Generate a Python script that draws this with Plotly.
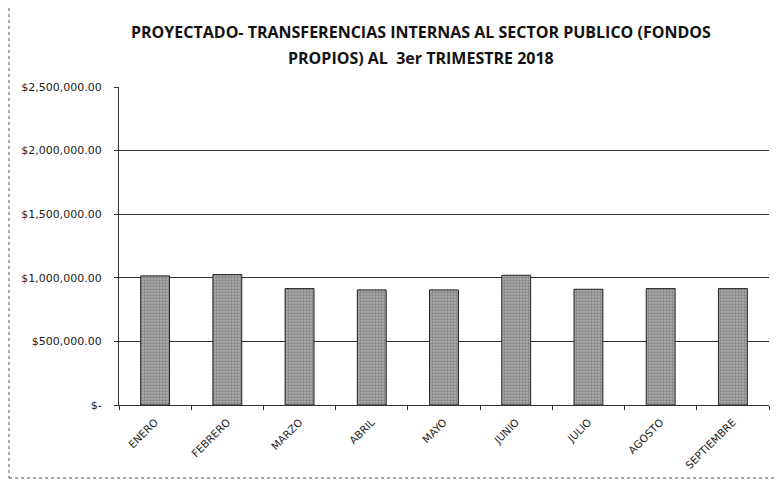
import plotly.graph_objects as go

meses = ["ENERO", "FEBRERO", "MARZO", "ABRIL", "MAYO", "JUNIO", "JULIO", "AGOSTO", "SEPTIEMBRE"]
montos = [1015000, 1025000, 915000, 905000, 905000, 1020000, 910000, 915000, 915000]
y_ticks = [0, 500000, 1000000, 1500000, 2000000, 2500000]
y_labels = ["$-", "$500,000.00", "$1,000,000.00", "$1,500,000.00", "$2,000,000.00", "$2,500,000.00"]
titulo_1 = "PROYECTADO- TRANSFERENCIAS INTERNAS AL SECTOR PUBLICO (FONDOS"
titulo_2 = "PROPIOS) AL  3er TRIMESTRE 2018"

W, H = 783, 484
OFF = 8  # page offset observed in the rendered screenshot
ml, mr, mt, mb = 119 - OFF, 14 + OFF, 87 - OFF, 79 + OFF

pw = W - ml - mr
ph = H - mt - mb
def px(x):
    return (x - OFF - ml) / pw
def py(y):
    return (H - mb - (y - OFF)) / ph

fig = go.Figure(go.Bar(
    x=meses, y=montos,
    marker=dict(color="#9a9a9a", line=dict(color="#222222", width=1),
                pattern=dict(shape=".", fgcolor="#5a5a5a", bgcolor="#ababab", size=3, solidity=0.45)),
    showlegend=False,
))

tfont = dict(family="Open Sans", size=16, color="#111111", weight="bold")
fig.update_layout(
    width=W, height=H,
    margin=dict(l=ml, r=mr, t=mt, b=mb),
    paper_bgcolor="white", plot_bgcolor="white",
    bargap=0.6,
    font=dict(family="DejaVu Sans", color="#222222"),
    annotations=[
        dict(text=titulo_1, xref="paper", yref="paper", x=px(421), y=py(32),
             xanchor="center", yanchor="middle", showarrow=False, font=tfont),
        dict(text=titulo_2, xref="paper", yref="paper", x=px(421), y=py(58),
             xanchor="center", yanchor="middle", showarrow=False, font=tfont),
    ],
    shapes=[dict(type="rect", xref="paper", yref="paper",
                 x0=px(9), x1=px(782), y0=py(478), y1=py(5),
                 line=dict(color="#555555", width=1, dash="dot"))],
)
fig.update_yaxes(range=[0, 2500000], tickvals=y_ticks, ticktext=y_labels,
                 showgrid=True, gridcolor="#333333", gridwidth=1,
                 showline=True, linecolor="#333333", linewidth=1,
                 ticks="outside", ticklen=4, tickcolor="#333333", ticklabelstandoff=10,
                 tickfont=dict(size=11, family="DejaVu Sans", color="#222222"), zeroline=False)
fig.update_xaxes(showline=True, linecolor="#333333", linewidth=1,
                 ticks="outside", ticklen=4, tickcolor="#333333", tickson="boundaries",
                 ticklabelstandoff=6,
                 tickangle=-45, tickfont=dict(size=10.5, family="DejaVu Sans", color="#222222"))
fig.write_html("out.html")
